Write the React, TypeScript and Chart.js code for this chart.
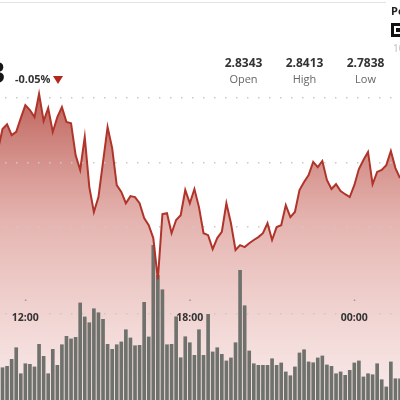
import React, { useEffect, useRef } from "react";
import { Chart, registerables } from "chart.js";

Chart.register(...registerables);

// ---- data ----
const times: string[] = [
  "11:00", "11:10", "11:20", "11:30", "11:40", "11:50",
  "12:00", "12:10", "12:20", "12:30", "12:40", "12:50",
  "13:00", "13:10", "13:20", "13:30", "13:40", "13:50",
  "14:00", "14:10", "14:20", "14:30", "14:40", "14:50",
  "15:00", "15:10", "15:20", "15:30", "15:40", "15:50",
  "16:00", "16:10", "16:20", "16:30", "16:40", "16:50",
  "17:00", "17:10", "17:20", "17:30", "17:40", "17:50",
  "18:00", "18:10", "18:20", "18:30", "18:40", "18:50",
  "19:00", "19:10", "19:20", "19:30", "19:40", "19:50",
  "20:00", "20:10", "20:20", "20:30", "20:40", "20:50",
  "21:00", "21:10", "21:20", "21:30", "21:40", "21:50",
  "22:00", "22:10", "22:20", "22:30", "22:40", "22:50",
  "23:00", "23:10", "23:20", "23:30", "23:40", "23:50",
  "00:00", "00:10", "00:20", "00:30", "00:40", "00:50",
  "01:00", "01:10", "01:20", "01:30", "01:40",
];

const prices: number[] = [
  2.8239, 2.8304, 2.8319, 2.8285, 2.8295, 2.8338, 2.8378, 2.8363, 2.8341, 2.8413,
  2.8329, 2.8369, 2.8295, 2.8341, 2.8372, 2.8326, 2.8322, 2.8223, 2.8177, 2.8279,
  2.8124, 2.8047, 2.8093, 2.8202, 2.8310, 2.8245, 2.8130, 2.8109, 2.8074, 2.8096,
  2.8093, 2.8074, 2.8028, 2.8006, 2.7966, 2.7838, 2.8040, 2.8043, 2.7981, 2.8022,
  2.8037, 2.8115, 2.8074, 2.8118, 2.8062, 2.7981, 2.7975, 2.7932, 2.7966, 2.7985,
  2.8074, 2.8012, 2.7929, 2.7944, 2.7938, 2.7950, 2.7960, 2.7969, 2.7981, 2.8012,
  2.7960, 2.8000, 2.8006, 2.8068, 2.8031, 2.8047, 2.8115, 2.8140, 2.8161, 2.8202,
  2.8186, 2.8205, 2.8146, 2.8118, 2.8133, 2.8112, 2.8102, 2.8093, 2.8130, 2.8180,
  2.8208, 2.8233, 2.8133, 2.8171, 2.8177, 2.8192, 2.8236, 2.8183, 2.8152,
];

const volumes: number[] = [
  117, 163, 170, 205, 263, 133, 183, 180, 167, 280,
  220, 133, 255, 175, 278, 320, 307, 315, 487, 417,
  388, 458, 438, 405, 280, 255, 278, 292, 353, 312,
  273, 275, 490, 317, 775, 625, 553, 278, 280, 418,
  213, 318, 288, 225, 353, 225, 430, 242, 263, 230,
  197, 212, 288, 650, 473, 247, 183, 175, 175, 175,
  208, 175, 187, 142, 123, 167, 237, 253, 192, 188,
  212, 222, 177, 170, 133, 142, 125, 150, 187, 197,
  117, 133, 128, 183, 103, 67, 192, 108, 108,
];

const axisLabels: string[] = ["12:00", "18:00", "00:00"];
const gridLevels: number[] = [2.84, 2.82, 2.8];

const bigPrice = "2.8333";
const changeText = "-0.05%";
const statValues: string[] = ["2.8343", "2.8413", "2.7838"];
const statNames: string[] = ["Open", "High", "Low"];

// ---- helpers ----
const toMinutes = (t: string): number => {
  const [h, m] = t.split(":").map(Number);
  const v = h * 60 + m;
  return h < 6 ? v + 1440 : v;
};

const priceData = times.map((t, i) => ({ x: toMinutes(t), y: prices[i] }));
const volData = times.map((t, i) => ({ x: toMinutes(t), y: volumes[i] }));

const FONT = '"Open Sans", "Noto Sans", sans-serif';

const dotPlugin = {
  id: "dotgrid",
  beforeDatasetsDraw(chart: any) {
    const { ctx, chartArea, scales } = chart;
    ctx.save();
    ctx.fillStyle = "#c9c9c9";
    for (const v of gridLevels) {
      const y = Math.round(scales.y.getPixelForValue(v));
      for (let x = 5; x < chartArea.right; x += 11) ctx.fillRect(x, y - 1, 1.5, 1.5);
    }
    // time axis row
    ctx.font = `700 10.5px ${FONT}`;
    const rowY = 314;
    const gaps = axisLabels.map((l) => {
      const px = scales.x.getPixelForValue(toMinutes(l));
      const w = ctx.measureText(l).width;
      return [px - w / 2 - 5, px + w / 2 + 4];
    });
    for (let x = 5; x < chartArea.right; x += 11) {
      if (gaps.some(([a, b]) => x > a && x < b)) continue;
      ctx.fillRect(x, rowY - 1, 1.5, 1.5);
    }
    ctx.fillStyle = "#999";
    for (const l of axisLabels) {
      const px = scales.x.getPixelForValue(toMinutes(l));
      ctx.fillRect(px - 0.5, 299.5, 1.5, 1.5);
    }
    ctx.restore();
  },
  afterDatasetsDraw(chart: any) {
    const { ctx, scales } = chart;
    ctx.save();
    ctx.font = `700 10.5px ${FONT}`;
    ctx.fillStyle = "#333";
    ctx.textAlign = "center";
    ctx.textBaseline = "alphabetic";
    for (const l of axisLabels) {
      const px = scales.x.getPixelForValue(toMinutes(l));
      ctx.fillText(l, px, 320.5);
    }
    ctx.restore();
  },
};

export default function App() {
  const ref = useRef<HTMLCanvasElement>(null);

  useEffect(() => {
    document.body.style.margin = "0";
    const canvas = ref.current!;
    const chart = new Chart(canvas, {
      type: "bar",
      data: {
        datasets: [
          {
            type: "line",
            data: priceData,
            yAxisID: "y",
            borderColor: "#b0342a",
            borderWidth: 2,
            pointRadius: 0,
            tension: 0,
            fill: "start",
            order: 0,
            backgroundColor: (c: any) => {
              const { chart } = c;
              const area = chart.chartArea;
              if (!area) return "rgba(200,100,90,0.4)";
              const g = chart.ctx.createLinearGradient(0, area.top, 0, area.bottom);
              g.addColorStop(0.2, "rgba(165,42,32,0.78)");
              g.addColorStop(0.55, "rgba(196,88,78,0.45)");
              g.addColorStop(1, "rgba(215,130,125,0.16)");
              return g;
            },
          } as any,
          {
            type: "bar",
            data: volData,
            yAxisID: "yv",
            backgroundColor: "#6f716c",
            barPercentage: 0.8,
            categoryPercentage: 1,
            order: 1,
          } as any,
        ],
      },
      options: {
        animation: false,
        responsive: false,
        maintainAspectRatio: false,
        layout: { padding: 0 },
        scales: {
          x: { type: "linear", min: 664.5, max: 1540, offset: false, display: false },
          y: { type: "linear", min: 2.7464, max: 2.8704, display: false },
          yv: { type: "linear", min: 0, max: 2000, display: false },
        },
        plugins: {
          legend: { display: false },
          tooltip: { enabled: false },
          filler: { drawTime: "beforeDatasetsDraw" },
        } as any,
      },
      plugins: [dotPlugin],
    } as any);
    return () => chart.destroy();
  }, []);

  const statX = [243.5, 304.5, 365.5];

  return (
    <div
      style={{
        position: "relative",
        width: 400,
        height: 400,
        overflow: "hidden",
        background: "#fff",
        fontFamily: FONT,
      }}
    >
      <canvas
        ref={ref}
        width={400}
        height={400}
        style={{ position: "absolute", left: 0, top: 0, display: "block" }}
      />
      <div style={{ position: "absolute", left: 0, top: 2, width: 386, height: 1, background: "#e3e3e3" }} />
      <div
        style={{
          position: "absolute",
          right: 395,
          top: 58,
          fontSize: 28,
          lineHeight: "28px",
          fontWeight: 700,
          color: "#161616",
          whiteSpace: "nowrap",
        }}
      >
        {bigPrice}
      </div>
      <div
        style={{
          position: "absolute",
          left: 15,
          top: 73,
          fontSize: 11,
          lineHeight: "11px",
          fontWeight: 700,
          color: "#333",
          whiteSpace: "nowrap",
        }}
      >
        {changeText}
      </div>
      <div
        style={{
          position: "absolute",
          left: 53,
          top: 76,
          width: 0,
          height: 0,
          borderLeft: "5px solid transparent",
          borderRight: "5px solid transparent",
          borderTop: "8px solid #b3261e",
        }}
      />
      {statValues.map((v, i) => (
        <React.Fragment key={v + i}>
          <div
            style={{
              position: "absolute",
              left: statX[i],
              top: 57,
              transform: "translateX(-50%)",
              fontSize: 12,
              lineHeight: "12px",
              fontWeight: 700,
              color: "#333",
              whiteSpace: "nowrap",
            }}
          >
            {v}
          </div>
          <div
            style={{
              position: "absolute",
              left: statX[i],
              top: 73,
              transform: "translateX(-50%)",
              fontSize: 11,
              lineHeight: "11px",
              fontWeight: 400,
              color: "#666",
              whiteSpace: "nowrap",
            }}
          >
            {statNames[i]}
          </div>
        </React.Fragment>
      ))}
      <div
        style={{
          position: "absolute",
          left: 391,
          top: 5,
          fontSize: 11,
          lineHeight: "11px",
          fontWeight: 700,
          color: "#222",
          whiteSpace: "nowrap",
        }}
      >
        Powered by
      </div>
      <div
        style={{
          position: "absolute",
          left: 391,
          top: 23,
          width: 14,
          height: 14,
          background: "#111",
        }}
      >
        <div style={{ position: "absolute", left: 3, top: 3, width: 8, height: 8, background: "#fff" }} />
        <div style={{ position: "absolute", left: 5, top: 5, width: 4, height: 4, background: "#111" }} />
      </div>
      <div
        style={{
          position: "absolute",
          left: 393,
          top: 43,
          fontSize: 10,
          lineHeight: "10px",
          color: "#bbb",
          whiteSpace: "nowrap",
        }}
      >
        10
      </div>
    </div>
  );
}
